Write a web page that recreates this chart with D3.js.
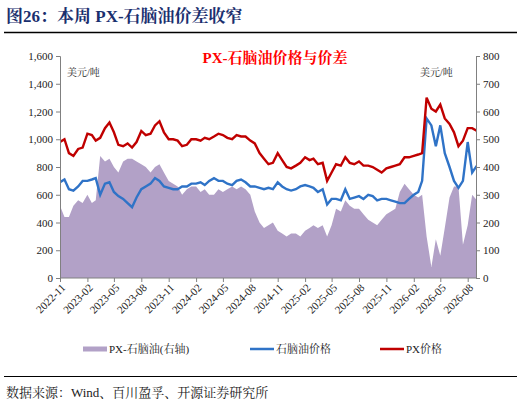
<!DOCTYPE html><html><head><meta charset="utf-8">
<script src="https://cdn.jsdelivr.net/npm/d3@7/dist/d3.min.js"></script>
<style>body{margin:0;background:#fff}text{font-family:"Liberation Serif","Noto Serif CJK SC","Noto Sans CJK SC",serif}</style></head><body>
<svg id="c" width="521" height="407"></svg>
<script>
const startMonth = "2022-11";
// semi-monthly points (1st and 16th of each month)
const pxPrice = [980,1000,900,880,930,940,1040,1030,990,1010,1080,1120,1050,960,950,970,940,980,1060,1030,1040,1100,1130,1050,1000,1000,990,950,960,1000,1000,990,1010,1000,1020,1040,1030,1010,1000,1030,1020,1020,990,970,900,860,
820,830,900,850,800,790,810,830,870,850,860,820,830,700,760,820,810,870,830,820,840,810,810,800,780,760,790,800,810,820,870,870,880,890,900,1300,1220,1200,1250,1150,1110,1050,950,990,1080,1080,1060];
const naphthaPrice = [690,710,640,630,660,700,700,710,720,600,680,690,620,590,570,540,510,580,640,660,680,720,700,660,650,640,640,660,660,680,680,690,670,700,720,700,700,680,670,700,710,690,660,660,650,640,
650,640,690,660,640,630,640,660,670,660,650,620,640,530,570,570,560,640,570,580,590,570,600,590,560,570,570,560,550,540,540,570,600,620,700,1150,1100,950,1100,900,800,700,650,700,980,760,810];
const spread = [260,220,220,260,280,270,300,270,280,440,420,430,400,380,420,430,430,420,410,400,380,400,410,380,350,340,330,300,320,330,330,310,320,300,300,320,310,320,330,320,330,320,300,240,200,180,
190,200,170,160,150,160,160,150,170,180,190,180,190,150,190,250,240,280,260,250,250,230,210,200,190,210,230,240,250,310,340,320,300,290,300,150,40,140,80,180,290,330,330,120,190,300,280];
const xTicks = ["2022-11","2023-02","2023-05","2023-08","2023-11","2024-02","2024-05","2024-08","2024-11","2025-02","2025-05","2025-08","2025-11","2026-02","2026-05","2026-08"];
const leftTicks = [0,200,400,600,800,1000,1200,1400,1600];
const rightTicks = [0,100,200,300,400,500,600,700,800];

const p = d3.timeParse("%Y-%m");
const s0 = p(startMonth);
const dates = pxPrice.map((_,i)=>{const d=d3.timeMonth.offset(s0,Math.floor(i/2)); if(i%2) d.setDate(16); return d;});
const svg = d3.select("#c");
const L=60,R=476,T=56,B=278;
const x = d3.scaleTime().domain([p("2022-11"), new Date(2026,8,1)]).range([L,R]);
x.domain([p("2022-11"), x.invert(R)]);
// calibrate: 2026-08 at 467.7
const x2 = d3.scaleTime().domain([p("2022-11"),p("2026-08")]).range([L,467.7]);
const yl = d3.scaleLinear().domain([0,1600]).range([B,T]);
const yr = d3.scaleLinear().domain([0,800]).range([B,T]);

svg.append("text").attr("x",6).attr("y",22).attr("fill","#1a2f6e").attr("font-size",17).attr("font-weight","bold").text("图26：本周 PX-石脑油价差收窄");
svg.append("line").attr("x1",4).attr("x2",517).attr("y1",32.5).attr("y2",32.5).attr("stroke","#000").attr("stroke-width",1.3);

const clip = svg.append("clipPath").attr("id","cl").append("rect").attr("x",L).attr("y",T-20).attr("width",R-L).attr("height",B-T+20);
const g = svg.append("g").attr("clip-path","url(#cl)");
g.append("path").datum(spread).attr("fill","#b2a1c7")
 .attr("d",d3.area().x((d,i)=>x2(dates[i])).y0(B).y1(d=>yr(d)));
g.append("path").datum(naphthaPrice).attr("fill","none").attr("stroke","#2f73c7").attr("stroke-width",2.4)
 .attr("d",d3.line().x((d,i)=>x2(dates[i])).y(d=>yl(d)));
g.append("path").datum(pxPrice).attr("fill","none").attr("stroke","#c00000").attr("stroke-width",2.4)
 .attr("d",d3.line().x((d,i)=>x2(dates[i])).y(d=>yl(d)));

const la = svg.append("g").attr("transform",`translate(${L},0)`).call(d3.axisLeft(yl).tickValues(leftTicks).tickFormat(d3.format(",")).tickSize(4));
const ra = svg.append("g").attr("transform",`translate(${R},0)`).call(d3.axisRight(yr).tickValues(rightTicks).tickSize(4));
const xa = svg.append("g").attr("transform",`translate(0,${B})`).call(d3.axisBottom(x2).tickValues(xTicks.map(p)).tickFormat(d3.timeFormat("%Y-%m")).tickSize(4));
xa.select(".domain").attr("d",`M${L},0H${R}`);
[la,ra,xa].forEach(a=>{a.selectAll("path,line").attr("stroke","#808080");a.selectAll("text").attr("font-size",11).attr("fill","#222").attr("font-family","Liberation Serif");});
xa.selectAll("text").attr("text-anchor","end").attr("dx","-0.3em").attr("dy","0.4em").attr("transform","rotate(-45)");

svg.append("text").attr("x",67).attr("y",76).attr("font-size",10).attr("fill","#222").text("美元/吨");
svg.append("text").attr("x",420).attr("y",76).attr("font-size",10).attr("fill","#222").text("美元/吨");
svg.append("text").attr("x",275).attr("y",63).attr("text-anchor","middle").attr("font-size",15).attr("font-weight","bold").attr("fill","#ff0000").text("PX-石脑油价格与价差");

const lg=[["PX-石脑油(右轴)","#b2a1c7",5,83],["石脑油价格","#2f73c7",2.5,250],["PX价格","#c00000",2.5,380]];
lg.forEach(([t,c,w,lx])=>{
 svg.append("rect").attr("x",lx).attr("y",349-w/2).attr("width",24).attr("height",w).attr("fill",c);
 svg.append("text").attr("x",lx+26).attr("y",353).attr("font-size",11).attr("fill","#222").text(t);
});
svg.append("line").attr("x1",4).attr("x2",517).attr("y1",376.5).attr("y2",376.5).attr("stroke","#000").attr("stroke-width",1);
svg.append("text").attr("x",6).attr("y",397).attr("font-size",13).attr("fill","#222").text("数据来源：Wind、百川盈孚、开源证券研究所");
</script></body></html>
